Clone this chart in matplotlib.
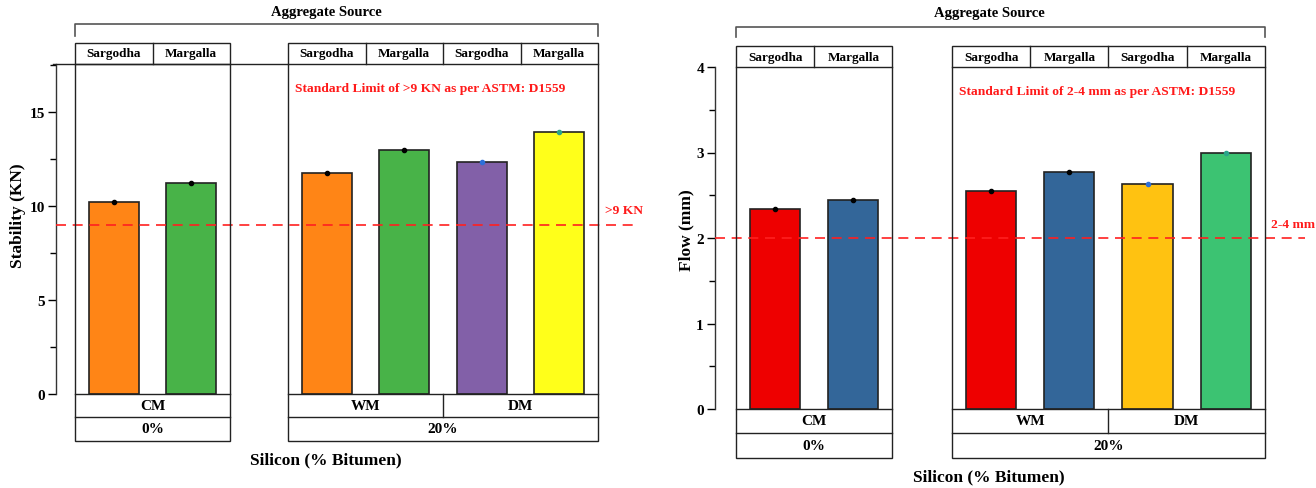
import numpy as np
import matplotlib
matplotlib.use("Agg")
import matplotlib.pyplot as plt
from matplotlib.patches import Rectangle
from matplotlib.lines import Line2D
from matplotlib.ticker import MultipleLocator

plt.rcParams['font.family'] = ['Liberation Serif', 'DejaVu Serif']
plt.rcParams['font.weight'] = 'bold'

# Data
sources = ['Sargodha', 'Margalla', 'Sargodha', 'Margalla', 'Sargodha', 'Margalla']
mixes = ['CM', 'WM', 'DM']
silicon = ['0%', '20%']

stability = [10.2, 11.2, 11.75, 12.95, 12.35, 13.92]
stability_err = [0.05, 0.05, 0.05, 0.05, 0.03, 0.03]
stability_colors = ['#FF8516', '#48B348', '#FF8516', '#48B348', '#8260A8', '#FFFF1A']
stability_dots = ['black', 'black', 'black', 'black', '#2E6FD8', '#2AA58A']

flow = [2.34, 2.44, 2.55, 2.77, 2.63, 2.99]
flow_err = [0.015, 0.015, 0.015, 0.015, 0.01, 0.01]
flow_colors = ['#EE0000', '#336699', '#EE0000', '#336699', '#FFC211', '#3CC372']
flow_dots = ['black', 'black', 'black', 'black', '#2E6FD8', '#2AA58A']

W, H = 1316, 489
fig = plt.figure(figsize=(W / 100, H / 100), dpi=100)


def chart(g, values, errs, colors, dots, ylim, major, minor, ylabel,
          limit, limit_tag, note):
    # g holds pixel geometry of one chart
    cell = g['cell']
    gap = g['gap']
    x_left = -0.5 - (g['panel0'] - g['spine']) / cell
    x_right = 1.5 + gap + 4 + (g['dash_end'] - g['panel1_end']) / cell
    ax_w = (x_right - x_left) * cell
    ax_h = g['y0'] - g['ytop']
    ax = fig.add_axes([g['spine'] / W, (H - g['y0']) / H, ax_w / W, ax_h / H])
    ax.set_xlim(x_left, x_right)
    ax.set_ylim(*ylim)
    for s in ['top', 'right', 'bottom']:
        ax.spines[s].set_visible(False)
    ax.spines['left'].set_linewidth(1.0)
    ax.spines['left'].set_color('#333333')
    ax.set_xticks([])
    ax.yaxis.set_major_locator(MultipleLocator(major))
    ax.yaxis.set_minor_locator(MultipleLocator(minor))
    ax.tick_params(axis='y', which='major', length=6, width=1.0, labelsize=11, pad=2)
    ax.tick_params(axis='y', which='minor', length=4, width=1.0)
    for t in ax.get_yticklabels():
        t.set_fontweight('bold')
    ax.set_ylabel(ylabel, fontsize=12.5, fontweight='bold')
    ax.yaxis.set_label_coords((g['ylab_x'] - g['spine']) / ax_w,
                              (g['y0'] - g['ylab_y']) / ax_h)

    pos = [0, 1] + [1.5 + gap + 0.5 + i for i in range(4)]
    ax.bar(pos, values, width=0.64, color=colors, edgecolor='#222222',
           linewidth=1.2, zorder=2)
    for p, v, e, c in zip(pos, values, errs, dots):
        ax.errorbar(p, v, yerr=e, fmt='o', ms=3, color=c, ecolor=c,
                    elinewidth=1, capsize=0, zorder=4)

    ax.axhline(limit, color='#FF2020', linestyle=(0, (6, 4)), linewidth=1.2,
               zorder=3, clip_on=False)

    tr = ax.get_xaxis_transform()

    def fy(px):
        return (g['y0'] - px) / ax_h

    lc = '#222222'
    lw = 1.0
    panels = [(-0.5, 1.5), (1.5 + gap, 1.5 + gap + 4)]
    # panel frames (header top to bottom row)
    for a, b in panels:
        ax.add_patch(Rectangle((a, fy(g['row2'])), b - a, fy(g['head_top']) - fy(g['row2']),
                               transform=tr, fill=False, ec=lc, lw=lw,
                               clip_on=False, zorder=5))
        for yy in [g['ytop'], g['y0'], g['row1']]:
            ax.add_line(Line2D([a, b], [fy(yy), fy(yy)], transform=tr,
                               color=lc, lw=lw, clip_on=False, zorder=5))
    if g['top_line']:
        ax.add_line(Line2D([x_left - 0.04, panels[1][0]], [1, 1], transform=tr,
                           color=lc, lw=lw, clip_on=False, zorder=5))

    # header cells with aggregate source names
    yh = (fy(g['head_top']) + 1) / 2
    for i, p in enumerate(pos):
        ax.text(p, yh, sources[i], transform=tr, ha='center', va='center',
                fontsize=9.5, fontweight='bold')
        if i not in (1, 5):
            ax.add_line(Line2D([p + 0.5, p + 0.5], [1, fy(g['head_top'])],
                               transform=tr, color=lc, lw=lw, clip_on=False, zorder=5))

    # mix rows
    r1 = (0 + fy(g['row1'])) / 2
    r2 = (fy(g['row1']) + fy(g['row2'])) / 2
    mix_x = [0.5, pos[2] + 0.5, pos[4] + 0.5]
    for m, x in zip(mixes, mix_x):
        ax.text(x, r1, m, transform=tr, ha='center', va='center',
                fontsize=11, fontweight='bold')
    ax.add_line(Line2D([pos[3] + 0.5] * 2, [0, fy(g['row1'])], transform=tr,
                       color=lc, lw=lw, clip_on=False, zorder=5))
    for s, (a, b) in zip(silicon, panels):
        ax.text((a + b) / 2, r2, s, transform=tr, ha='center', va='center',
                fontsize=11, fontweight='bold')

    # bracket for aggregate source
    xa, xb = panels[0][0], panels[1][1]
    ax.add_line(Line2D([xa, xa, xb, xb],
                       [fy(g['br_tick']), fy(g['br']), fy(g['br']), fy(g['br_tick'])],
                       transform=tr, color='#555555', lw=1.2, clip_on=False))
    cx = -0.5 + (g['title_cx'] - g['panel0']) / cell
    ax.text(cx, fy(g['title_y']), 'Aggregate Source', transform=tr,
            ha='center', va='center', fontsize=10.5, fontweight='bold')
    ax.text(cx, fy(g['xlab_y']), 'Silicon (% Bitumen)', transform=tr,
            ha='center', va='center', fontsize=12.5, fontweight='bold')

    # limit notes
    ax.text(-0.5 + (g['note_x'] - g['panel0']) / cell, fy(g['note_y']), note,
            transform=tr, ha='left', va='center', color='#FF1A1A',
            fontsize=9.7, fontweight='bold')
    ax.annotate(limit_tag, (-0.5 + (g['tag_x'] - g['panel0']) / cell, limit),
                xytext=(0, 6), textcoords='offset points',
                ha='left', va='bottom', color='#FF1A1A', fontsize=9.7,
                fontweight='bold', annotation_clip=False)
    return ax


left_geom = dict(spine=56, panel0=75, cell=77.5, gap=(288 - 230) / 77.5,
                 panel1_end=598, dash_end=639, y0=395, ytop=65, head_top=44,
                 row1=418, row2=442, br=25, br_tick=37, title_y=12.5,
                 title_cx=326, xlab_y=460, note_x=295, note_y=89, tag_x=605,
                 ylab_x=26, ylab_y=216, top_line=True)
right_geom = dict(spine=715, panel0=736, cell=78.2, gap=(952 - 892.4) / 78.2,
                  panel1_end=1264.8, dash_end=1305, y0=410, ytop=68, head_top=47,
                  row1=434, row2=459, br=28, br_tick=38, title_y=14,
                  title_cx=989, xlab_y=477, note_x=959, note_y=92, tag_x=1271,
                  ylab_x=694, ylab_y=230, top_line=False)

chart(left_geom, stability, stability_err, stability_colors, stability_dots,
      (0, 17.55), 5, 2.5, 'Stability (KN)', 9, '>9 KN',
      'Standard Limit of >9 KN as per ASTM: D1559')
chart(right_geom, flow, flow_err, flow_colors, flow_dots,
      (0, 4), 1, 0.5, 'Flow (mm)', 2, '2-4 mm',
      'Standard Limit of 2-4 mm as per ASTM: D1559')

fig.savefig('out.png', dpi=100)
